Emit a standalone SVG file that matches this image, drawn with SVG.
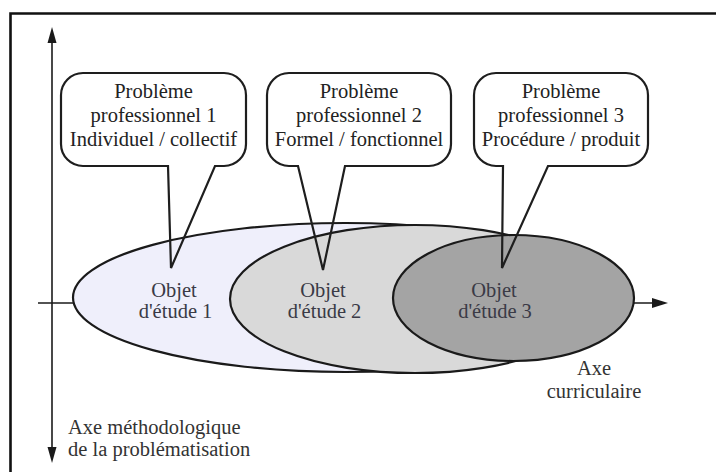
<svg xmlns="http://www.w3.org/2000/svg" width="716" height="472" viewBox="0 0 716 472" font-family="Liberation Serif, DejaVu Serif, serif">
  <defs>
    <style>
      text { font-family: "Liberation Serif", "Times New Roman", Times, "DejaVu Serif", serif; font-size: 20.5px; fill: #222; text-anchor: middle; }
      .o { fill: #3a3a46; }
      .lbl { fill: #333; }
      .ell { stroke: #1a1a1a; stroke-width: 2.2; }
      .call { fill: none; stroke: #1e1e1e; stroke-width: 2.2; stroke-linejoin: miter; }
      .axis { stroke: #1a1a1a; stroke-width: 1.6; fill: none; }
    </style>
  </defs>
  <rect width="716" height="472" fill="#ffffff"/>
  <path d="M10.5,472 V13.5 H716" fill="none" stroke="#111" stroke-width="2.6"/>

  <g id="connectors">
    <line class="axis" x1="52" y1="40" x2="52" y2="450"/>
    <polygon points="52,27 47.5,43 56.5,43" fill="#1a1a1a"/>
    <polygon points="52,463 47.5,447 56.5,447" fill="#1a1a1a"/>
    <line class="axis" x1="38" y1="303" x2="655" y2="303"/>
    <polygon points="668,303 652,298 652,308" fill="#1a1a1a"/>
  </g>

  <g id="objet1">
    <ellipse class="ell" cx="345" cy="297.5" rx="272" ry="74.5" fill="#efeffb"/>
  </g>
  <g id="objet2">
    <ellipse class="ell" cx="415" cy="299" rx="185" ry="74" fill="#d9d9d9"/>
  </g>
  <g id="objet3">
    <ellipse class="ell" cx="513.5" cy="298" rx="120.5" ry="63" fill="#a4a4a4"/>
  </g>
  <g id="objet-labels">
    <text class="o" x="174" y="297">Objet</text>
    <text class="o" x="175.5" y="318">d'étude 1</text>
    <text class="o" x="323" y="297">Objet</text>
    <text class="o" x="324.5" y="318">d'étude 2</text>
    <text class="o" x="494" y="297">Objet</text>
    <text class="o" x="495" y="318">d'étude 3</text>
  </g>

  <g id="probleme1">
    <path class="call" d="M83,73 H224 A22,22 0 0 1 246,95 V144 A22,22 0 0 1 224,166 H215 L171,268 L168,166 H83 A22,22 0 0 1 61,144 V95 A22,22 0 0 1 83,73 Z"/>
    <text x="153.5" y="98">Problème</text>
    <text x="153.5" y="122">professionnel 1</text>
    <text x="153.5" y="146">Individuel / collectif</text>
  </g>
  <g id="probleme2">
    <path class="call" d="M289,73 H429 A22,22 0 0 1 451,95 V144 A22,22 0 0 1 429,166 H345 L323,270 L298,166 H289 A22,22 0 0 1 267,144 V95 A22,22 0 0 1 289,73 Z"/>
    <text x="359" y="98">Problème</text>
    <text x="359" y="122">professionnel 2</text>
    <text x="359" y="146">Formel / fonctionnel</text>
  </g>
  <g id="probleme3">
    <path class="call" d="M496,73 H626 A22,22 0 0 1 648,95 V144 A22,22 0 0 1 626,166 H548 L502,268 L503,166 H496 A22,22 0 0 1 474,144 V95 A22,22 0 0 1 496,73 Z"/>
    <text x="561" y="98">Problème</text>
    <text x="561" y="122">professionnel 3</text>
    <text x="561" y="146">Procédure / produit</text>
  </g>

  <g id="axe-curriculaire">
    <text class="lbl" x="594" y="375">Axe</text>
    <text class="lbl" x="594" y="398">curriculaire</text>
  </g>
  <g id="axe-methodologique">
    <text class="lbl" x="68" y="434" style="text-anchor:start">Axe méthodologique</text>
    <text class="lbl" x="68" y="456" style="text-anchor:start">de la problématisation</text>
  </g>
</svg>
